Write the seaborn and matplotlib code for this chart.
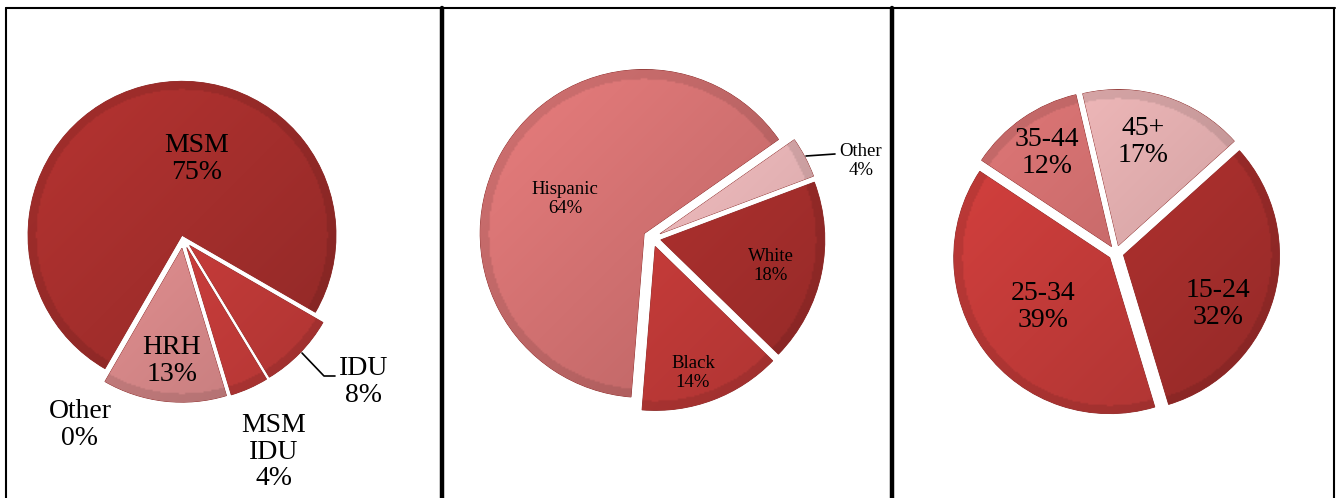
import numpy as np
import matplotlib
matplotlib.use("Agg")
import matplotlib.pyplot as plt
import seaborn as sns
from matplotlib.colors import to_rgb

# ---------------- data ----------------
risk_labels = ["MSM", "IDU", "MSM\nIDU", "HRH", "Other"]
risk_values = [75, 8, 4, 13, 0]

race_labels = ["Black", "Hispanic", "Other", "White"]
race_values = [14, 64, 4, 18]

age_labels = ["15-24", "25-34", "35-44", "45+"]
age_values = [32, 39, 12, 17]

# ---------------- style ----------------
W, H = 1336, 498
sns.set_theme(style="white")
plt.rcParams["font.family"] = ["Liberation Serif", "DejaVu Serif"]

fig = plt.figure(figsize=(W / 100, H / 100), dpi=100)
fig.patch.set_facecolor("white")
ax = fig.add_axes([0, 0, 1, 1])


def Y(ypix):
    return H - ypix


panels = [
    dict(values=risk_values, labels=risk_labels,
         colors=["#A32E2C", "#C43B39", "#C93D3B", "#DA8A8B", "#D98A8B"],
         center=(183, 239), R=154, start=240,
         explode=[0.025, 0.06, 0.06, 0.06, 0.06], fs=20,
         label_pos=[(197, 159), (364, 382), (274, 452), (172, 361), (80, 425)]),
    dict(values=race_values, labels=race_labels,
         colors=["#C43B39", "#D07070", "#E9B6B8", "#A82F2D"],
         center=(652, 238), R=164, start=-44.2,
         explode=[0.055] * 4, fs=13.5,
         label_pos=[(693, 373), (565, 199), (861, 161), (771, 266)]),
    dict(values=age_values, labels=age_labels,
         colors=["#A82F2D", "#C03A38", "#C96B6B", "#DDAAAB"],
         center=(1116, 253), R=156, start=42,
         explode=[0.05] * 4, fs=20,
         label_pos=[(1218, 304), (1043, 307), (1047, 153), (1143, 142)]),
]


def shade_wedge(w, base):
    cx, cy = w.center
    r = w.r
    n = 200
    xs = np.linspace(cx - r, cx + r, n)
    ys = np.linspace(cy - r, cy + r, n)
    X, Yg = np.meshgrid(xs, ys)
    t = ((X - cx) - (Yg - cy)) / (2 * r)          # top-left light, bottom-right dark
    d = np.hypot(X - cx, Yg - cy) / r
    f = 1.0 - 0.12 * t
    f = f * np.where(d > 0.95, 0.9, 1.0)
    rgb = np.clip(np.array(base)[None, None, :] * f[..., None], 0, 1)
    im = ax.imshow(rgb, extent=(cx - r, cx + r, cy - r, cy + r), origin="lower",
                   interpolation="bilinear", zorder=2)
    im.set_clip_path(w)


for p in panels:
    cx, cy = p["center"]
    R = p["R"]
    wedges, _ = ax.pie(p["values"], colors=p["colors"],
                       explode=[e * R for e in p["explode"]],
                       startangle=p["start"], counterclock=False,
                       center=(cx, Y(cy)), radius=R, frame=True,
                       wedgeprops=dict(linewidth=0.6, edgecolor="#8a2a28"))
    for w, c, v in zip(wedges, p["colors"], p["values"]):
        w.set_zorder(1)
        if v == 0:
            w.set_visible(False)
            continue
        shade_wedge(w, to_rgb(c))
    for lab, val, (lx, ly) in zip(p["labels"], p["values"], p["label_pos"]):
        ax.text(lx, Y(ly), f"{lab}\n{val}%", ha="center", va="center",
                multialignment="center", fontsize=p["fs"], linespacing=1.1,
                color="black", zorder=5)

# leader lines
ax.plot([302, 324, 335], [Y(353), Y(376), Y(376)], color="black", lw=1.2, zorder=5)
ax.plot([806, 835], [Y(156), Y(154)], color="black", lw=1.2, zorder=5)

# table borders
ax.plot([6, 6], [Y(8), Y(498)], color="black", lw=1.5, zorder=6)
ax.plot([6, 1335], [Y(8), Y(8)], color="black", lw=1.5, zorder=6)
ax.plot([442, 442], [Y(8), Y(498)], color="black", lw=3.2, zorder=6)
ax.plot([892, 892], [Y(8), Y(498)], color="black", lw=3.2, zorder=6)
ax.plot([1334, 1334], [Y(8), Y(498)], color="black", lw=1.5, zorder=6)

ax.set_xlim(0, W)
ax.set_ylim(0, H)
ax.set_aspect("equal")
ax.axis("off")

fig.savefig("out.png", dpi=100, facecolor="white")
